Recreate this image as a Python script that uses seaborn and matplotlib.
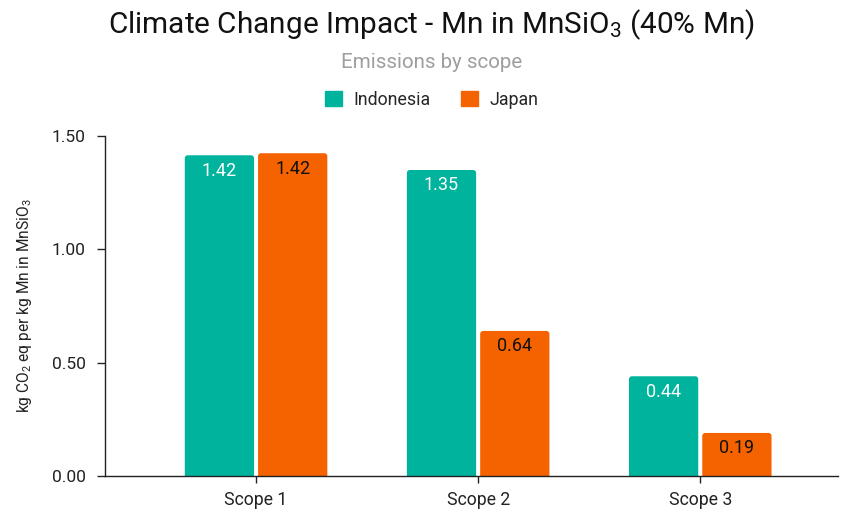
import matplotlib
matplotlib.use("Agg")
import matplotlib.pyplot as plt
from matplotlib.patches import FancyBboxPatch
import seaborn as sns
import pandas as pd

scopes = ["Scope 1", "Scope 2", "Scope 3"]
indonesia = [1.415, 1.35, 0.44]
japan = [1.424, 0.64, 0.19]
labels_indonesia = ["1.42", "1.35", "0.44"]
labels_japan = ["1.42", "0.64", "0.19"]
countries = ["Indonesia", "Japan"]
colors = {"Indonesia": "#00B39C", "Japan": "#F56200"}
y_ticks = [0.0, 0.5, 1.0, 1.5]

df = pd.DataFrame({
    "scope": scopes * 2,
    "country": ["Indonesia"] * 3 + ["Japan"] * 3,
    "value": indonesia + japan,
})

sns.set_theme(style="white")
plt.rcParams["font.family"] = ["Roboto", "DejaVu Sans"]
plt.rcParams["mathtext.fontset"] = "custom"
plt.rcParams["mathtext.rm"] = "Roboto"
plt.rcParams["mathtext.it"] = "Roboto:italic"
plt.rcParams["mathtext.bf"] = "Roboto:bold"

fig = plt.figure(figsize=(8.43, 5.13), dpi=100)
ax = fig.add_axes([0.1246, 0.0721, 0.8694, 0.6628])

sns.barplot(data=df, x="scope", y="value", hue="country", order=scopes,
            hue_order=countries, palette=colors, width=0.66, gap=0.055,
            saturation=1, ax=ax, legend=False)

ax.set_ylim(0, 1.5)
ax.set_xlim(-0.68, 2.62)

# replace the square bars with ones that have softly rounded top corners
fig.canvas.draw()
bbox = ax.get_window_extent()
px_per_x = bbox.width / (ax.get_xlim()[1] - ax.get_xlim()[0])
px_per_y = bbox.height / (ax.get_ylim()[1] - ax.get_ylim()[0])
radius_px = 3.0
r_x = radius_px / px_per_x
extra_y = radius_px / px_per_y
for container in ax.containers:
    for bar in container:
        x0, w = bar.get_x(), bar.get_width()
        h = bar.get_height()
        rounded = FancyBboxPatch((x0, -extra_y), w, h + extra_y,
                                 boxstyle=f"round,pad=0,rounding_size={r_x}",
                                 mutation_aspect=px_per_x / px_per_y,
                                 facecolor=bar.get_facecolor(), edgecolor="none",
                                 zorder=bar.get_zorder())
        ax.add_patch(rounded)
        bar.set_visible(False)

# value labels inside the top of each bar
for container, labels, tcolor in zip(ax.containers, [labels_indonesia, labels_japan],
                                     ["white", "#111111"]):
    ax.bar_label(container, labels=labels, padding=-17.5, color=tcolor, fontsize=13)

ax.set_yticks(y_ticks)
ax.set_yticklabels([f"{v:.2f}" for v in y_ticks], fontsize=12.5, color="#222222")
ax.tick_params(axis="x", labelsize=12.7, colors="#222222", length=5, width=1,
               direction="out", bottom=True, pad=6)
ax.tick_params(axis="y", length=6, width=1, direction="out", left=True, pad=8)
ax.set_xlabel("")
ax.set_ylabel(r"kg CO$\mathregular{_2}$ eq per kg Mn in MnSiO$\mathregular{_3}$",
              fontsize=11.2, color="#222222", labelpad=13)

for side in ["top", "right"]:
    ax.spines[side].set_visible(False)
for side in ["left", "bottom"]:
    ax.spines[side].set_color("#222222")
    ax.spines[side].set_linewidth(1)
    ax.spines[side].set_zorder(5)

fig.text(0.512, 0.952, r"Climate Change Impact - Mn in MnSiO$\mathregular{_3}$ (40% Mn)",
         ha="center", va="center", fontsize=21.4, color="#111111")
fig.text(0.512, 0.878, "Emissions by scope", ha="center", va="center",
         fontsize=14.8, color="#9E9E9E")

handles = [FancyBboxPatch((0, 0), 1, 1, boxstyle="round,pad=0,rounding_size=0.15",
                          color=colors[c]) for c in countries]
fig.legend(handles, countries, loc="center", bbox_to_anchor=(0.512, 0.806), ncol=2,
           frameon=False, fontsize=12.8, handlelength=0.95, handleheight=0.95,
           columnspacing=1.7, handletextpad=0.65)

fig.savefig("out.png", dpi=100)
